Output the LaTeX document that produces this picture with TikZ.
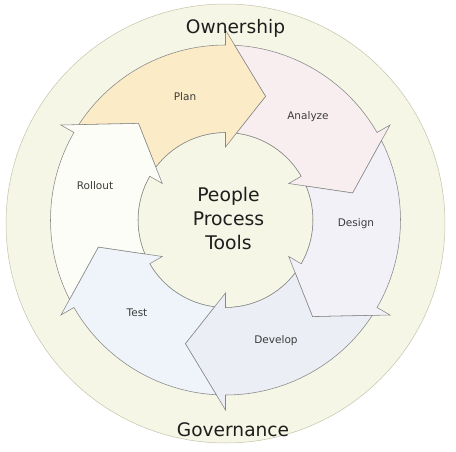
\documentclass[tikz,border=0pt]{standalone}
\usepackage{fontspec}
\setmainfont{DejaVu Sans}
\definecolor{bandcol}{RGB}{245,246,229}
\definecolor{bandline}{RGB}{196,196,170}
\definecolor{arrline}{RGB}{135,135,135}
\definecolor{plancol}{RGB}{251,235,199}
\definecolor{analyzecol}{RGB}{248,238,240}
\definecolor{designcol}{RGB}{242,241,248}
\definecolor{developcol}{RGB}{235,238,244}
\definecolor{testcol}{RGB}{238,244,250}
\definecolor{rolloutcol}{RGB}{253,253,247}
\definecolor{smalltext}{RGB}{60,60,60}
\definecolor{bigtext}{RGB}{30,30,30}
\newcommand\cyclearrow[2]{%
  \pgfmathsetmacro\tailang{#1+60}%
  \filldraw[arrowshape, fill=#2]
    (\tailang-3.02:175pt) arc[start angle=\tailang-3.02, end angle=#1, radius=175pt]
    -- (#1:190pt) -- (#1-18:130pt) -- (#1:73pt) -- (#1:87.5pt)
    arc[start angle=#1, end angle=\tailang-7.2, radius=87.5pt]
    -- (\tailang-18:130pt) -- cycle;
}
\tikzset{
  arrowshape/.style={draw=arrline, line width=0.55pt, line join=miter},
  steplabel/.style={anchor=base, font=\fontsize{10.5}{12}\selectfont, text=smalltext, inner sep=0pt},
  bandlabel/.style={anchor=base, font=\fontsize{18.6}{22}\selectfont, text=bigtext, inner sep=0pt},
  centerlabel/.style={align=center, font=\fontsize{18.8}{24}\selectfont, text=bigtext, inner sep=0pt}
}
\begin{document}
\begin{tikzpicture}[x=1pt,y=1pt]
\useasboundingbox (-225.5,-231) rectangle (230.5,220);
% outer band
\filldraw[fill=bandcol, draw=bandline, line width=0.5pt] (0,-3.5) circle[radius=219.5pt];
% inner circle
\filldraw[fill=bandcol, draw=arrline, line width=0.55pt] (0,0) circle[radius=87.5pt];
% arrows
\cyclearrow{90}{plancol}
\cyclearrow{30}{analyzecol}
\cyclearrow{-30}{designcol}
\cyclearrow{-90}{developcol}
\cyclearrow{-150}{testcol}
\cyclearrow{150}{rolloutcol}
% labels
\node[steplabel] (plan) at (-40.5,120) {Plan};
\node[steplabel] (analyze) at (82.5,101) {Analyze};
\node[steplabel] (design) at (130.5,-6) {Design};
\node[steplabel] (develop) at (50.5,-123) {Develop};
\node[steplabel] (test) at (-88.5,-96) {Test};
\node[steplabel] (rollout) at (-130.5,31) {Rollout};
\node[bandlabel] (own) at (10,187) {Ownership};
\node[bandlabel] (gov) at (7.5,-216) {Governance};
\node[centerlabel, anchor=base] (ppl) at (3,19) {People};
\node[centerlabel, anchor=base] (proc) at (3,-5) {Process};
\node[centerlabel, anchor=base] (tools) at (3,-29) {Tools};
\end{tikzpicture}
\end{document}
